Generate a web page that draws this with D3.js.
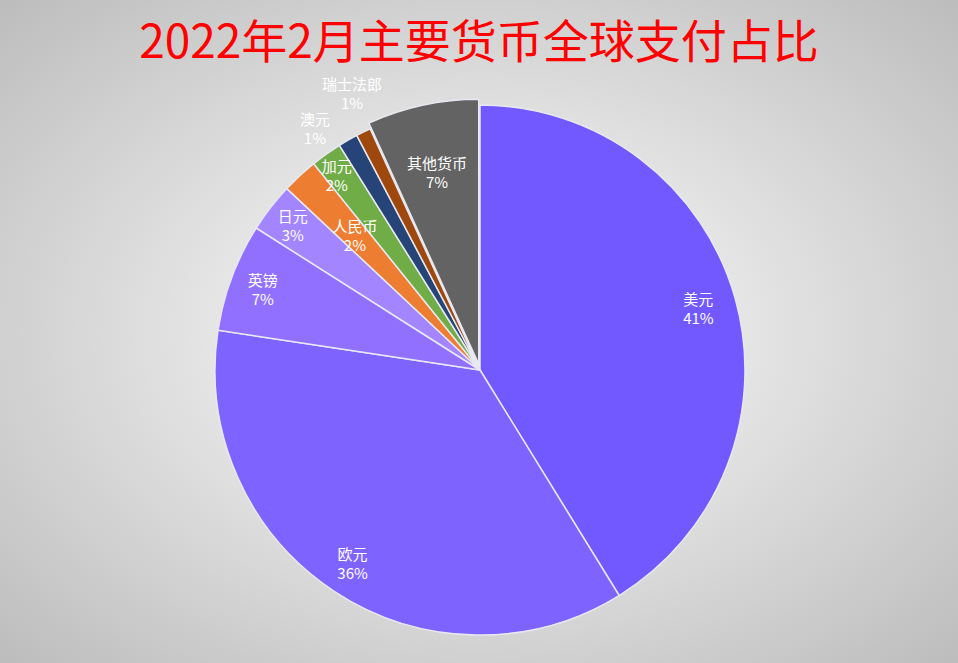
<!DOCTYPE html>
<html><head><meta charset="utf-8">
<script src="https://cdn.jsdelivr.net/npm/d3@7"></script>
<style>body{margin:0;}svg{display:block;}</style>
</head><body>
<svg id="c" width="958" height="663"></svg>
<script>
const categories = ["美元","欧元","英镑","日元","人民币","加元","澳元","瑞士法郎","其他货币"];
const values = [41.2, 36.2, 6.6, 3.0, 2.2, 1.9, 1.2, 0.9, 6.8];
const pctLabels = ["41%","36%","7%","3%","2%","2%","1%","1%","7%"];
const colors = ["#7158ff","#7f63ff","#9170ff","#a285ff","#ed7d31","#70ad47","#264478","#9e480e","#636363"];
const labelRadius = [227,231,232,237,184,242,293,305,203];
const labelAngleOverride = [null,null,null,null,null,323.7,325.7,335.2,null];

const svg = d3.select("#c");
const defs = svg.append("defs");
const g = defs.append("radialGradient").attr("id","bg").attr("cx","50%").attr("cy","50%").attr("r","70%");
g.append("stop").attr("offset","0%").attr("stop-color","#ffffff");
g.append("stop").attr("offset","100%").attr("stop-color","#bdbdbd");
svg.append("rect").attr("width",958).attr("height",663).attr("fill","url(#bg)");

svg.append("text").attr("x",479).attr("y",58).attr("text-anchor","middle")
  .attr("font-family","Noto Sans CJK SC").attr("font-size",46).attr("fill","#ff0000")
  .text("2022年2月主要货币全球支付占比");

const cx=480, cy=370, R=265;
const pie = d3.pie().sort(null).value(d=>d)(values);
const arc = d3.arc().innerRadius(0).outerRadius(R);
const root = svg.append("g").attr("transform",`translate(${cx},${cy})`);
pie.forEach((p,i)=>{
  const mid=(p.startAngle+p.endAngle)/2;
  const off = i===8?6:0;
  root.append("path").attr("d",arc(p))
    .attr("transform",`translate(${Math.sin(mid)*off},${-Math.cos(mid)*off})`)
    .attr("fill",colors[i]).attr("stroke","#e8e8f0").attr("stroke-width",1.5);
});
pie.forEach((p,i)=>{
  const mid = labelAngleOverride[i]!==null ? labelAngleOverride[i]*Math.PI/180 : (p.startAngle+p.endAngle)/2;
  const r=labelRadius[i];
  const x=Math.sin(mid)*r, y=-Math.cos(mid)*r;
  const t=root.append("text").attr("text-anchor","middle").attr("font-family","Noto Sans CJK SC")
    .attr("font-size",15).attr("fill","#fff");
  t.append("tspan").attr("x",x).attr("y",y-3).text(categories[i]);
  t.append("tspan").attr("x",x).attr("y",y+16).text(pctLabels[i]);
});
</script>
</body></html>
